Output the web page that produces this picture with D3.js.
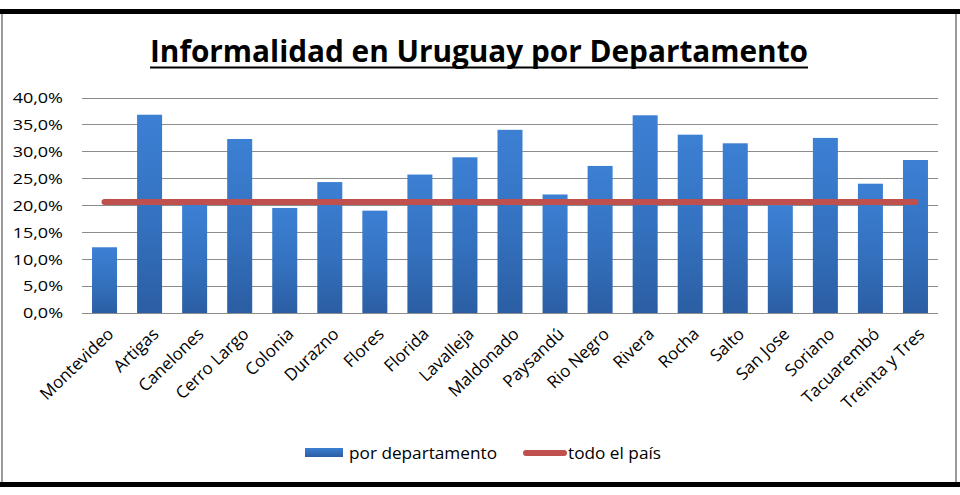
<!DOCTYPE html>
<html>
<head>
<meta charset="utf-8">
<script src="https://cdn.jsdelivr.net/npm/d3@7"></script>
<style>
  html, body { margin: 0; padding: 0; background: #fff; }
  svg { display: block; }
  text { font-family: "Open Sans", "DejaVu Sans", sans-serif; fill: #000; }
</style>
</head>
<body>
<svg id="chart" width="960" height="495"></svg>
<script>
const categories = ["Montevideo","Artigas","Canelones","Cerro Largo","Colonia","Durazno","Flores","Florida","Lavalleja","Maldonado","Paysandú","Rio Negro","Rivera","Rocha","Salto","San Jose","Soriano","Tacuarembó","Treinta y Tres"];
const porDepartamento = [0.122,0.368,0.201,0.323,0.195,0.243,0.190,0.257,0.289,0.340,0.220,0.273,0.367,0.331,0.315,0.200,0.325,0.240,0.284];
const todoElPais = [0.206,0.206,0.206,0.206,0.206,0.206,0.206,0.206,0.206,0.206,0.206,0.206,0.206,0.206,0.206,0.206,0.206,0.206,0.206];
const yTicks = [0,0.05,0.10,0.15,0.20,0.25,0.30,0.35,0.40];
const titleText = "Informalidad en Uruguay por Departamento";
const seriesNames = ["por departamento","todo el país"];

const svg = d3.select("#chart");
const SX = 1.2; // horizontal stretch of text

// frame
svg.append("rect").attr("x",0).attr("y",0).attr("width",960).attr("height",495).attr("fill","#fff");
svg.append("rect").attr("x",0).attr("y",9).attr("width",960).attr("height",5).attr("fill","#000");
svg.append("rect").attr("x",0).attr("y",482).attr("width",960).attr("height",5).attr("fill","#000");
svg.append("line").attr("x1",2).attr("x2",2).attr("y1",14).attr("y2",482).attr("stroke","#9a9a9a").attr("stroke-width",2);
svg.append("line").attr("x1",956).attr("x2",956).attr("y1",14).attr("y2",482).attr("stroke","#9a9a9a").attr("stroke-width",2);

const x = d3.scaleBand().domain(categories).range([82, 938]).paddingInner(0.445).paddingOuter(0.2225);
const y = d3.scaleLinear().domain([0, 0.40]).range([313, 97.5]);

// gradient
const defs = svg.append("defs");
const grad = defs.append("linearGradient").attr("id","barGrad").attr("x1",0).attr("y1",0).attr("x2",0).attr("y2",1);
grad.append("stop").attr("offset","0%").attr("stop-color","#3c80d4");
grad.append("stop").attr("offset","55%").attr("stop-color","#3471bf");
grad.append("stop").attr("offset","100%").attr("stop-color","#2b5ea3");
const gradH = defs.append("linearGradient").attr("id","legGrad").attr("x1",0).attr("y1",0).attr("x2",0).attr("y2",1);
gradH.append("stop").attr("offset","0%").attr("stop-color","#3b7fd2");
gradH.append("stop").attr("offset","100%").attr("stop-color","#2b5ea3");

// gridlines
svg.append("g").selectAll("line").data(yTicks).join("line")
  .attr("x1",82).attr("x2",938)
  .attr("y1",d=>Math.round(y(d))+0.5).attr("y2",d=>Math.round(y(d))+0.5)
  .attr("stroke","#8c8c8c").attr("stroke-width",1);

// y axis labels
const fmt = d => d3.format(".1f")(d*100).replace(".",",") + "%";
svg.append("g").selectAll("text").data(yTicks).join("text")
  .attr("transform", d => `translate(63,${y(d)}) scale(${SX},1)`)
  .attr("text-anchor","end").attr("dy","0.36em")
  .style("font-size","15px")
  .text(fmt);

// bars
svg.append("g").selectAll("rect").data(porDepartamento).join("rect")
  .attr("x",(d,i)=>x(categories[i]))
  .attr("width",x.bandwidth())
  .attr("y",d=>y(d))
  .attr("height",d=>y(0)-y(d))
  .attr("fill","url(#barGrad)");

// line
const line = d3.line().x((d,i)=>x(categories[i])+x.bandwidth()/2).y(d=>y(d));
svg.append("path").datum(todoElPais).attr("d",line)
  .attr("fill","none").attr("stroke","#c0504d").attr("stroke-width",6).attr("stroke-linecap","round");

// x labels
svg.append("g").selectAll("text").data(categories).join("text")
  .attr("transform", d => `translate(${x(d)+x.bandwidth()/2+6},331) rotate(-44)`)
  .attr("text-anchor","end").attr("dy","0.35em")
  .style("font-size","17px")
  .text(d=>d);

// title
svg.append("text").attr("x",150).attr("y",62)
  .attr("textLength",658).attr("lengthAdjust","spacingAndGlyphs")
  .style("font-size","30px").style("font-weight","bold")
  .text(titleText);
svg.append("line").attr("x1",150).attr("x2",808).attr("y1",67.5).attr("y2",67.5)
  .attr("stroke","#000").attr("stroke-width",2);

// legend
svg.append("rect").attr("x",305).attr("y",448).attr("width",38).attr("height",9).attr("fill","url(#legGrad)");
svg.append("text").attr("x",349).attr("y",458.5)
  .attr("textLength",148).attr("lengthAdjust","spacingAndGlyphs")
  .style("font-size","16px").text(seriesNames[0]);
svg.append("line").attr("x1",526).attr("x2",564).attr("y1",453).attr("y2",453)
  .attr("stroke","#c0504d").attr("stroke-width",6).attr("stroke-linecap","round");
svg.append("text").attr("x",568).attr("y",458.5)
  .attr("textLength",93).attr("lengthAdjust","spacingAndGlyphs")
  .style("font-size","16px").text(seriesNames[1]);
</script>
</body>
</html>
